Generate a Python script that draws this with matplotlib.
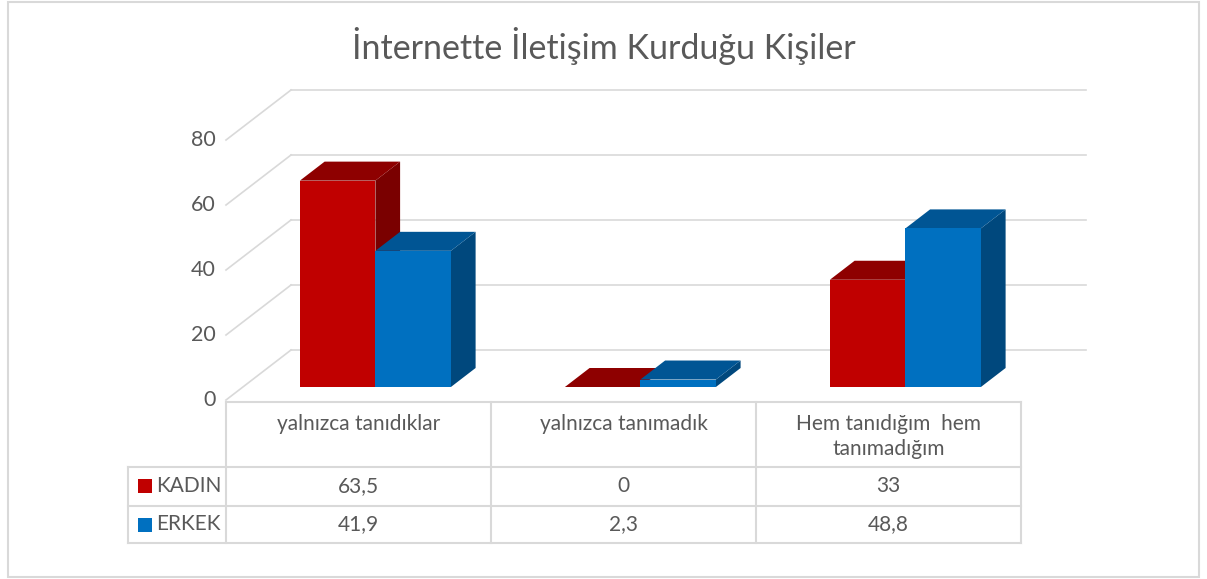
import matplotlib.pyplot as plt
from matplotlib.patches import Polygon, Rectangle

# data
categories = ['yalnızca tanıdıklar', 'yalnızca tanımadık', 'Hem tanıdığım  hem\ntanımadığım']
series = ['KADIN', 'ERKEK']
kadin = [63.5, 0, 33]
erkek = [41.9, 2.3, 48.8]
kadin_labels = ['63,5', '0', '33']
erkek_labels = ['41,9', '2,3', '48,8']
yticks = [0, 20, 40, 60, 80]

plt.rcParams['font.family'] = ['Lato', 'DejaVu Sans']
TXT = '#595959'
GRID = '#D9D9D9'

# colours: front, top, side
face_cols = {
    'KADIN': ('#C00000', '#8E0000', '#7A0000'),
    'ERKEK': ('#0070C0', '#005594', '#00487D'),
}

W, H = 1207, 579
fig = plt.figure(figsize=(W / 100, H / 100), dpi=100)

# front plane of the 3D box, in pixels
px_l, px_r, px_b, px_t = 226, 1021, 400, 140
ax = fig.add_axes([px_l / W, 1 - px_b / H, (px_r - px_l) / W, (px_b - px_t) / H])
ax.set_xlim(-0.5, 2.5)
ax.set_ylim(0, 80)
ax.axis('off')

ppx = (px_r - px_l) / 3      # px per category
ppy = (px_b - px_t) / 80     # px per unit
DX = 65 / ppx                # depth offset in data units
DY = 50 / ppy

# back wall grid + left wall diagonals
for v in yticks:
    ax.plot([-0.5 + DX, 2.5 + DX], [v + DY, v + DY], color=GRID, lw=1.2, clip_on=False, zorder=1)
    ax.plot([-0.5, -0.5 + DX], [v, v + DY], color=GRID, lw=1.2, clip_on=False, zorder=1)
    ax.text(-0.5 - 10 / ppx, v, str(v), ha='right', va='center', fontsize=15.5, color=TXT)

# bars
bw = 75.5 / ppx
d0, d1 = 13 / 50, 32 / 50
z = 2
for i in range(len(categories)):
    for j, (name, vals) in enumerate([('KADIN', kadin), ('ERKEK', erkek)]):
        front, top, side = face_cols[name]
        v = vals[i]
        x0 = i - bw + j * bw + d0 * DX
        y0 = d0 * DY
        ddx, ddy = (d1 - d0) * DX, (d1 - d0) * DY
        ax.add_patch(Polygon([(x0 + bw, y0), (x0 + bw + ddx, y0 + ddy),
                              (x0 + bw + ddx, y0 + v + ddy), (x0 + bw, y0 + v)],
                             closed=True, fc=side, ec='none', clip_on=False, zorder=z))
        ax.add_patch(Polygon([(x0, y0 + v), (x0 + bw, y0 + v),
                              (x0 + bw + ddx, y0 + v + ddy), (x0 + ddx, y0 + v + ddy)],
                             closed=True, fc=top, ec='none', clip_on=False, zorder=z + 1))
        ax.bar(x0, v, width=bw, bottom=y0, align='edge', color=front, clip_on=False, zorder=z + 2)
        z += 3

# data table
row_y = [-2 / ppy, -67 / ppy, -106 / ppy, -143 / ppy]
leg_x = -0.5 - 98 / ppx
tk = dict(color=GRID, lw=1.5, clip_on=False, zorder=1)
ax.plot([-0.5, 2.5], [row_y[0]] * 2, **tk)
for y in row_y[1:]:
    ax.plot([leg_x, 2.5], [y, y], **tk)
ax.plot([leg_x, leg_x], [row_y[1], row_y[3]], **tk)
for xb in [-0.5, 0.5, 1.5, 2.5]:
    ax.plot([xb, xb], [row_y[0], row_y[3]], **tk)

fs = 15
for i, cat in enumerate(categories):
    ax.text(i, row_y[0] - 12 / ppy, cat, ha='center', va='top', fontsize=fs,
            color=TXT, linespacing=1.3)
    ax.text(i, (row_y[1] + row_y[2]) / 2, kadin_labels[i], ha='center', va='center',
            fontsize=fs, color=TXT)
    ax.text(i, (row_y[2] + row_y[3]) / 2, erkek_labels[i], ha='center', va='center',
            fontsize=fs, color=TXT)

for r, name in enumerate(series):
    yc = (row_y[r + 1] + row_y[r + 2]) / 2
    sq = 14
    ax.add_patch(Rectangle((leg_x + 10 / ppx, yc - sq / 2 / ppy), sq / ppx, sq / ppy,
                           fc=face_cols[name][0], ec='none', clip_on=False))
    ax.text(leg_x + 28 / ppx, yc, name, ha='left', va='center', fontsize=fs, color=TXT)

# title and chart frame
fig.text(0.5, 1 - 46 / H, 'İnternette İletişim Kurduğu Kişiler', ha='center', va='center',
         fontsize=24.5, color=TXT)
fig.patches.append(Rectangle((8 / W, 2 / H), 1191 / W, 575 / H, transform=fig.transFigure,
                             fill=False, ec=GRID, lw=1.5))

fig.savefig('out.png', dpi=100)
